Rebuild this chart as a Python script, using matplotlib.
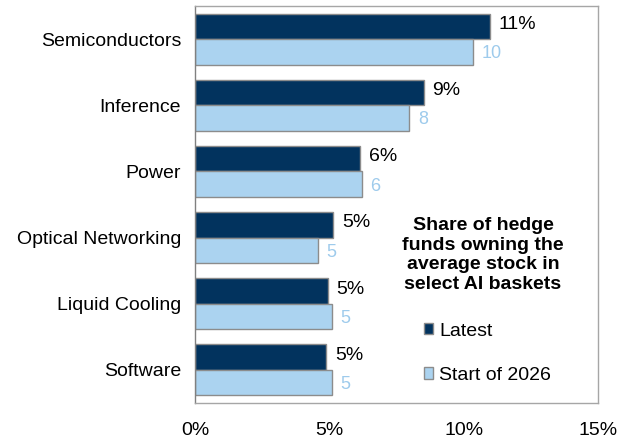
import matplotlib.pyplot as plt
from matplotlib.patches import Patch
import numpy as np

plt.rcParams['font.family'] = ['Liberation Sans', 'DejaVu Sans']

categories = ["Semiconductors", "Inference", "Power", "Optical Networking",
              "Liquid Cooling", "Software"]
latest = [10.98, 8.51, 6.14, 5.15, 4.94, 4.88]
start_2026 = [10.33, 7.97, 6.20, 4.57, 5.09, 5.09]
latest_labels = ["11%", "9%", "6%", "5%", "5%", "5%"]
start_labels = ["10", "8", "6", "5", "5", "5"]

navy = "#02335e"
light = "#abd3f0"
label_blue = "#9ecbec"
edge = "#8c8c8c"

fig = plt.figure(figsize=(6.29, 4.40), dpi=100)
ax = fig.add_axes([195 / 629, 37 / 440, 403 / 629, 397 / 440])

y = np.arange(len(categories))
h = 0.385
ax.barh(y - h / 2, latest, height=h, color=navy, edgecolor=edge, linewidth=1)
ax.barh(y + h / 2, start_2026, height=h, color=light, edgecolor=edge, linewidth=1)

for i in range(len(categories)):
    ax.text(latest[i] + 0.33, y[i] - h / 2 - 0.03, latest_labels[i],
            va="center", ha="left", fontsize=14, color="black")
    ax.text(start_2026[i] + 0.33, y[i] + h / 2 + 0.03, start_labels[i],
            va="center", ha="left", fontsize=13, color=label_blue)

ax.set_xlim(0, 15)
ax.set_ylim(len(categories) - 0.5, -0.5)
ax.set_yticks(y)
ax.set_yticklabels(categories, fontsize=14)
ax.set_xticks([0, 5, 10, 15])
ax.set_xticklabels(["0%", "5%", "10%", "15%"], fontsize=14)
ax.tick_params(length=0, pad=10)
ax.tick_params(axis="x", pad=14)
for s in ax.spines.values():
    s.set_color("#a6a6a6")
    s.set_linewidth(1)
ax.spines["left"].set_color("#808080")

ax.text(483 / 629, 1 - 255 / 440,
        "Share of hedge\nfunds owning the\naverage stock in\nselect AI baskets",
        transform=fig.transFigure, ha="center", va="center",
        fontsize=14, fontweight="bold", linespacing=1.22)

handles = [Patch(facecolor=navy, edgecolor=edge, label="Latest"),
           Patch(facecolor=light, edgecolor=edge, label="Start of 2026")]
fig.legend(handles=handles, loc="upper left",
           bbox_to_anchor=(414 / 629, 1 - 313 / 440), frameon=False,
           fontsize=14, handlelength=0.5, handleheight=0.5,
           handletextpad=0.3, labelspacing=1.4, borderpad=0)

fig.savefig("out.png", dpi=100)
